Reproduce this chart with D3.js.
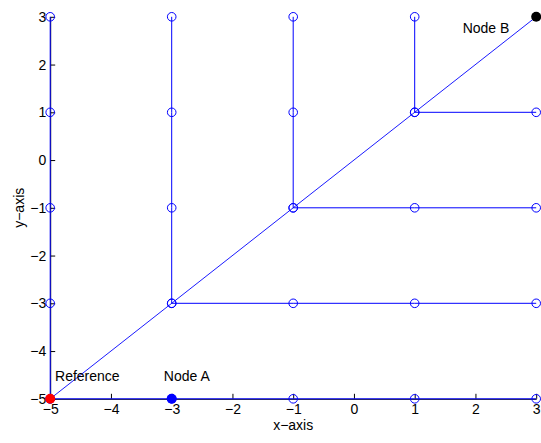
<!DOCTYPE html>
<html>
<head>
<meta charset="utf-8">
<script src="https://cdn.jsdelivr.net/npm/d3@7"></script>
<style>
  body { margin: 0; background: #fff; }
  svg { display: block; font-family: "Liberation Sans", Arial, sans-serif; }
</style>
</head>
<body>
<svg width="541" height="443"></svg>
<script>
// branch lines of the tree, each drawn as 'o-'
const branches = [
    [[-5, -5], [-5, -3], [-5, -1], [-5, 1], [-5, 3]],
    [[-5, -5], [-3, -5], [-1, -5], [1, -5], [3, -5]],
    [[-3, -3], [-3, -1], [-3, 1], [-3, 3]],
    [[-3, -3], [-1, -3], [1, -3], [3, -3]],
    [[-1, -1], [-1, 1], [-1, 3]],
    [[-1, -1], [1, -1], [3, -1]],
    [[1, 1], [1, 3]],
    [[1, 1], [3, 1]]
];
// straight line reference -> node B
const diagonal = [[-5, -5], [3, 3]];
// special nodes
const nodes = [
    { name: "Reference", x: -5, y: -5, color: "#ff0000" },
    { name: "Node A", x: -3, y: -5, color: "#0000ff" },
    { name: "Node B", x: 3, y: 3, color: "#000000" }
];
const labels = [
    { text: "Reference", x: -4.92, y: -4.52 },
    { text: "Node A", x: -3.13, y: -4.52 },
    { text: "Node B", x: 1.79, y: 2.77 }
];
const xTicks = [-5, -4, -3, -2, -1, 0, 1, 2, 3];
const yTicks = [-5, -4, -3, -2, -1, 0, 1, 2, 3];

const svg = d3.select("svg");
const x = d3.scaleLinear().domain([-5, 3]).range([50.2, 536.2]);
const y = d3.scaleLinear().domain([-5, 3]).range([398.8, 16.8]);

// axes (box off, ticks inside)
const xAxis = svg.append("g")
    .attr("transform", `translate(0,${y(-5)})`)
    .call(d3.axisBottom(x).tickValues(xTicks).tickSizeInner(-5).tickSizeOuter(0).tickPadding(5));
const yAxis = svg.append("g")
    .attr("transform", `translate(${x(-5)},0)`)
    .call(d3.axisLeft(y).tickValues(yTicks).tickSizeInner(-5).tickSizeOuter(0).tickPadding(4));
[xAxis, yAxis].forEach(g => {
    g.attr("font-family", null).attr("font-size", 14);
    g.selectAll("path, line").attr("stroke", "#000");
    g.selectAll("text").attr("fill", "#000");
});

const line = d3.line().x(d => x(d[0])).y(d => y(d[1]));

svg.append("g").selectAll("path")
    .data(branches)
    .join("path")
    .attr("d", line)
    .attr("fill", "none")
    .attr("stroke", "#0000ff")
    .attr("stroke-width", 1);

svg.append("path")
    .attr("d", line(diagonal))
    .attr("fill", "none")
    .attr("stroke", "#0000ff")
    .attr("stroke-width", 0.9);

svg.append("g").selectAll("circle")
    .data(branches.flat())
    .join("circle")
    .attr("cx", d => x(d[0]))
    .attr("cy", d => y(d[1]))
    .attr("r", 4.3)
    .attr("fill", "none")
    .attr("stroke", "#0000ff")
    .attr("stroke-width", 1);

svg.append("g").selectAll("circle")
    .data(nodes)
    .join("circle")
    .attr("cx", d => x(d.x))
    .attr("cy", d => y(d.y))
    .attr("r", 5)
    .attr("fill", d => d.color);

svg.append("g").selectAll("text")
    .data(labels)
    .join("text")
    .attr("x", d => x(d.x))
    .attr("y", d => y(d.y))
    .attr("dy", "0.35em")
    .attr("font-size", 14)
    .text(d => d.text);

// axis titles
svg.append("text")
    .attr("x", (x(-5) + x(3)) / 2)
    .attr("y", 430)
    .attr("text-anchor", "middle")
    .attr("font-size", 14)
    .text("x\u2212axis");
svg.append("text")
    .attr("transform", `translate(24,${(y(-5) + y(3)) / 2}) rotate(-90)`)
    .attr("text-anchor", "middle")
    .attr("font-size", 14)
    .text("y\u2212axis");
</script>
</body>
</html>
